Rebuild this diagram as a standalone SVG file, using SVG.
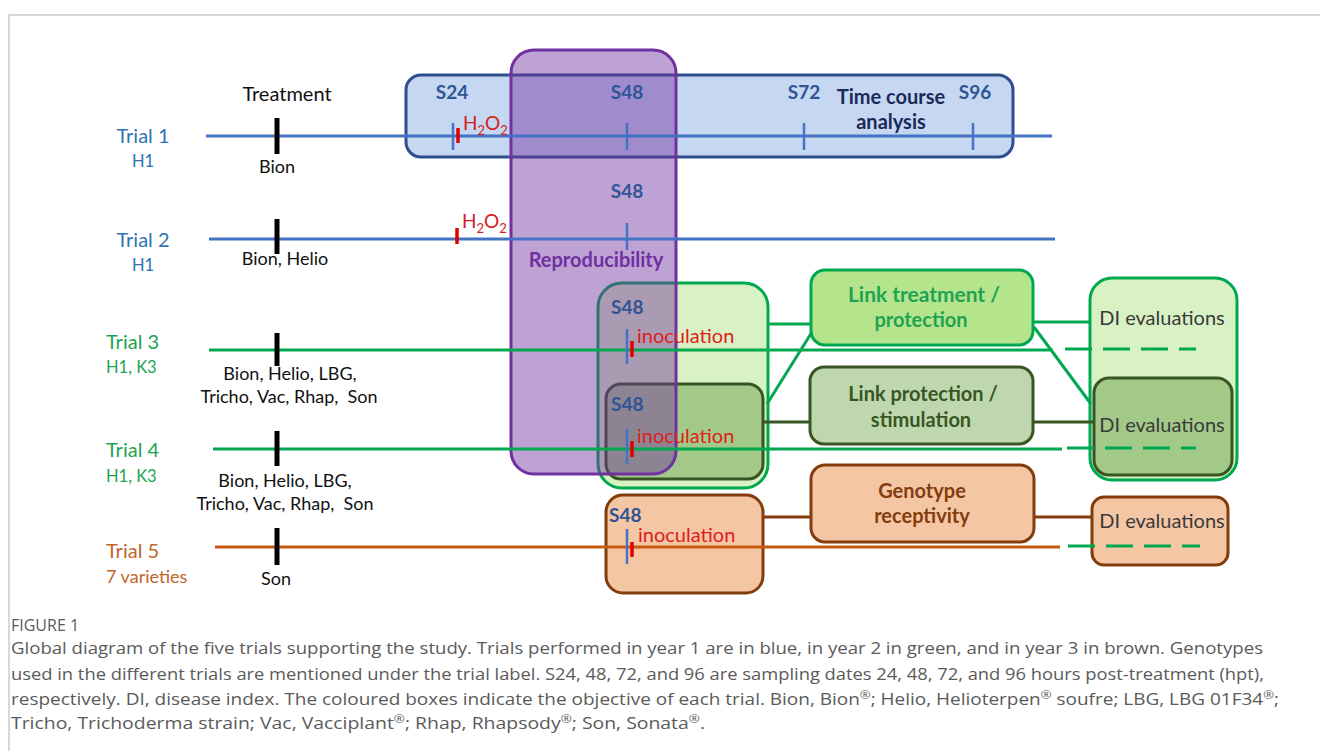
<svg xmlns="http://www.w3.org/2000/svg" width="1320" height="751" viewBox="0 0 1320 751">
  <style>
    text { font-family: Lato, "Liberation Sans", sans-serif; }
    .frame { fill: #ffffff; stroke: #cccccc; stroke-width: 1.5; }
    .axis { stroke-width: 3; fill: none; }
    .ax-blue { stroke: #4472c4; }
    .ax-green { stroke: #00a84f; }
    .ax-brown { stroke: #c55a11; }
    .dash { stroke: #00a84f; stroke-width: 3; stroke-dasharray: 27 11; fill: none; }
    .treat { stroke: #000000; stroke-width: 5; }
    .stick { stroke: #4472c4; stroke-width: 2.5; }
    .rtick { stroke: #e00000; stroke-width: 3.5; }
    .trial-b { fill: #2e74b5; font-size: 20px; }
    .trial-g { fill: #1fa352; font-size: 20px; }
    .trial-o { fill: #c0662a; font-size: 20px; }
    .geno { font-size: 16.5px; }
    .geno-o { font-size: 18px; }
    .prod { fill: #111111; font-size: 18px; text-anchor: middle; white-space: pre; }
    .samp { fill: #2f5597; font-size: 19px; font-weight: bold; }
    .red { fill: #e01c1c; font-size: 20px; }
    .h2o2 { fill: #d42020; font-size: 19px; }
    .box-blue { fill: #c6d7f1; stroke: #2f4f8c; stroke-width: 3; }
    .box-purple { fill: #7030a0; fill-opacity: 0.45; stroke: #7030a0; stroke-width: 3; }
    .box-lg { fill: #d9f2c4; stroke: #00a84f; stroke-width: 3; }
    .box-dg { fill: #a3c989; stroke: #375623; stroke-width: 3; }
    .box-link1 { fill: #b4e58c; stroke: #00a84f; stroke-width: 3; }
    .box-link2 { fill: #bfd7ae; stroke: #375623; stroke-width: 3; }
    .box-or { fill: #f4c6a4; stroke: #843c0c; stroke-width: 3; }
    .title { font-size: 20px; font-weight: bold; text-anchor: middle; }
    .di { fill: #3a3a3a; font-size: 20px; text-anchor: middle; }
    .c-g { stroke: #00a84f; stroke-width: 3; fill: none; }
    .c-dg { stroke: #375623; stroke-width: 3; fill: none; }
    .c-or { stroke: #843c0c; stroke-width: 3; fill: none; }
    .cap { font-family: "Open Sans", "Liberation Sans", sans-serif; fill: #5a5a5a; font-size: 16px; }
    .sup { font-size: 11px; }
  </style>

  <!-- page frame -->
  <rect class="frame" x="9" y="15" width="1330" height="760"/>

  <!-- objective boxes -->
  <g id="box-timecourse">
    <rect class="box-blue" x="406" y="75" width="607" height="82" rx="15"/>
    <text class="title" x="891" y="104" fill="#1a2a5a">Time course</text>
    <text class="title" x="891" y="129" fill="#1a2a5a">analysis</text>
  </g>
  <g id="box-trial3">
    <rect class="box-lg" x="598" y="283" width="170" height="205" rx="24"/>
  </g>
  <g id="box-trial4">
    <rect class="box-dg" x="606" y="384" width="157" height="95" rx="15"/>
  </g>
  <g id="box-trial5">
    <rect class="box-or" x="606" y="495" width="157" height="98" rx="17"/>
  </g>
  <g id="link-treatment">
    <rect class="box-link1" x="811" y="270" width="222" height="75" rx="14"/>
    <text class="title" x="924" y="302" fill="#1fa352" textLength="152" lengthAdjust="spacingAndGlyphs">Link treatment /</text>
    <text class="title" x="921" y="327" fill="#1fa352">protection</text>
  </g>
  <g id="link-stimulation">
    <rect class="box-link2" x="810" y="367" width="223" height="77" rx="14"/>
    <text class="title" x="923" y="401" fill="#375623">Link protection /</text>
    <text class="title" x="921" y="427" fill="#375623">stimulation</text>
  </g>
  <g id="genotype">
    <rect class="box-or" x="811" y="465" width="223" height="77" rx="14"/>
    <text class="title" x="922" y="498" fill="#843c0c">Genotype</text>
    <text class="title" x="922" y="523" fill="#843c0c">receptivity</text>
  </g>
  <g id="di-trial3">
    <rect class="box-lg" x="1090" y="278" width="147" height="202" rx="22"/>
    <text class="di" x="1162" y="325">DI evaluations</text>
  </g>
  <g id="di-trial4">
    <rect class="box-dg" x="1094" y="378" width="138" height="97" rx="15"/>
    <text class="di" x="1162" y="432">DI evaluations</text>
  </g>
  <g id="di-trial5">
    <rect class="box-or" x="1092" y="497" width="136" height="68" rx="12"/>
    <text class="di" x="1162" y="528">DI evaluations</text>
  </g>

  <!-- links between objective boxes -->
  <g id="connectors">
    <line class="c-g" x1="768" y1="324" x2="811" y2="324"/>
    <line class="c-g" x1="767" y1="404" x2="812" y2="332"/>
    <line class="c-g" x1="1033" y1="322" x2="1090" y2="322"/>
    <line class="c-g" x1="1034" y1="327" x2="1091" y2="404"/>
    <line class="c-dg" x1="763" y1="422" x2="810" y2="422"/>
    <line class="c-dg" x1="1033" y1="422" x2="1094" y2="422"/>
    <line class="c-or" x1="763" y1="517" x2="811" y2="517"/>
    <line class="c-or" x1="1034" y1="517" x2="1092" y2="517"/>
  </g>

  <!-- reproducibility overlay -->
  <g id="box-reproducibility">
    <rect class="box-purple" x="511" y="50" width="165" height="424" rx="23"/>
    <text class="title" x="596" y="267" fill="#7030a0">Reproducibility</text>
  </g>

  <!-- trial timelines -->
  <g id="trial1">
    <text class="trial-b" x="143" y="143" text-anchor="middle">Trial 1</text>
    <text class="trial-b geno" x="143" y="167" text-anchor="middle">H1</text>
    <text x="287" y="101" font-size="20" text-anchor="middle" fill="#111111">Treatment</text>
    <line class="axis ax-blue" x1="206" y1="136" x2="1052" y2="136"/>
    <line class="treat" x1="277" y1="118" x2="277" y2="154"/>
    <text class="prod" x="277" y="173">Bion</text>
    <line class="stick" x1="453" y1="123" x2="453" y2="150"/>
    <line class="rtick" x1="458" y1="128" x2="458" y2="143"/>
    <text class="h2o2" x="463" y="130">H<tspan font-size="13" dy="5">2</tspan><tspan dy="-5">O</tspan><tspan font-size="13" dy="5">2</tspan></text>
    <text class="samp" x="452" y="99" text-anchor="middle">S24</text>
    <line class="stick" x1="627" y1="123" x2="627" y2="150"/>
    <text class="samp" x="627" y="99" text-anchor="middle">S48</text>
    <line class="stick" x1="804" y1="123" x2="804" y2="150"/>
    <text class="samp" x="804" y="99" text-anchor="middle">S72</text>
    <line class="stick" x1="973" y1="123" x2="973" y2="150"/>
    <text class="samp" x="975" y="99" text-anchor="middle">S96</text>
  </g>

  <g id="trial2">
    <text class="trial-b" x="143" y="247" text-anchor="middle">Trial 2</text>
    <text class="trial-b geno" x="143" y="271" text-anchor="middle">H1</text>
    <line class="axis ax-blue" x1="209" y1="239" x2="1055" y2="239"/>
    <line class="treat" x1="277" y1="219" x2="277" y2="254"/>
    <text class="prod" x="285" y="265">Bion, Helio</text>
    <line class="rtick" x1="457" y1="228" x2="457" y2="244"/>
    <text class="h2o2" x="462" y="228">H<tspan font-size="13" dy="5">2</tspan><tspan dy="-5">O</tspan><tspan font-size="13" dy="5">2</tspan></text>
    <line class="stick" x1="627" y1="223" x2="627" y2="250"/>
    <text class="samp" x="627" y="198" text-anchor="middle">S48</text>
  </g>

  <g id="trial3">
    <text class="trial-g" x="106" y="349">Trial 3</text>
    <text class="trial-g geno" x="106" y="373">H1, K3</text>
    <line class="axis ax-green" x1="209" y1="350" x2="1053" y2="350"/>
    <line class="dash" x1="1065" y1="349" x2="1196" y2="349"/>
    <line class="treat" x1="277" y1="333" x2="277" y2="366"/>
    <text class="prod" x="290" y="380">Bion, Helio, LBG,</text>
    <text class="prod" x="289" y="403" xml:space="preserve">Tricho, Vac, Rhap,  Son</text>
    <line class="stick" x1="627" y1="329" x2="627" y2="364"/>
    <line class="rtick" x1="632" y1="341" x2="632" y2="357"/>
    <text class="samp" x="611" y="314">S48</text>
    <text class="red" x="637" y="343">inoculation</text>
  </g>

  <g id="trial4">
    <text class="trial-g" x="106" y="457">Trial 4</text>
    <text class="trial-g geno" x="106" y="482">H1, K3</text>
    <line class="axis ax-green" x1="213" y1="449" x2="1062" y2="449"/>
    <line class="dash" x1="1067" y1="448" x2="1196" y2="448"/>
    <line class="treat" x1="277" y1="431" x2="277" y2="466"/>
    <text class="prod" x="285" y="487">Bion, Helio, LBG,</text>
    <text class="prod" x="285" y="510" xml:space="preserve">Tricho, Vac, Rhap,  Son</text>
    <line class="stick" x1="627" y1="429" x2="627" y2="464"/>
    <line class="rtick" x1="632" y1="441" x2="632" y2="457"/>
    <text class="samp" x="611" y="411">S48</text>
    <text class="red" x="637" y="443">inoculation</text>
  </g>

  <g id="trial5">
    <text class="trial-o" x="106" y="558">Trial 5</text>
    <text class="trial-o geno-o" x="106" y="583">7 varieties</text>
    <line class="axis ax-brown" x1="215" y1="547" x2="1060" y2="547"/>
    <line class="dash" x1="1068" y1="546" x2="1200" y2="546"/>
    <line class="treat" x1="277" y1="528" x2="277" y2="565"/>
    <text class="prod" x="276" y="585">Son</text>
    <line class="stick" x1="627" y1="529" x2="627" y2="564"/>
    <line class="rtick" x1="632" y1="542" x2="632" y2="557"/>
    <text class="samp" x="609" y="522">S48</text>
    <text class="red" x="638" y="542">inoculation</text>
  </g>

  <!-- caption -->
  <g id="caption">
    <text class="cap" x="11" y="631" font-size="13.5" fill="#6a6a6a">FIGURE 1</text>
    <text class="cap" x="11" y="654" textLength="1252" lengthAdjust="spacingAndGlyphs">Global diagram of the five trials supporting the study. Trials performed in year 1 are in blue, in year 2 in green, and in year 3 in brown. Genotypes</text>
    <text class="cap" x="11" y="680" textLength="1253" lengthAdjust="spacingAndGlyphs">used in the different trials are mentioned under the trial label. S24, 48, 72, and 96 are sampling dates 24, 48, 72, and 96 hours post-treatment (hpt),</text>
    <text class="cap" x="11" y="705" textLength="1268" lengthAdjust="spacingAndGlyphs">respectively. DI, disease index. The coloured boxes indicate the objective of each trial. Bion, Bion<tspan class="sup" dy="-6">®</tspan><tspan dy="6">; Helio, Helioterpen</tspan><tspan class="sup" dy="-6">®</tspan><tspan dy="6"> soufre; LBG, LBG 01F34</tspan><tspan class="sup" dy="-6">®</tspan><tspan dy="6">;</tspan></text>
    <text class="cap" x="11" y="729" textLength="694" lengthAdjust="spacingAndGlyphs">Tricho, Trichoderma strain; Vac, Vacciplant<tspan class="sup" dy="-6">®</tspan><tspan dy="6">; Rhap, Rhapsody</tspan><tspan class="sup" dy="-6">®</tspan><tspan dy="6">; Son, Sonata</tspan><tspan class="sup" dy="-6">®</tspan><tspan dy="6">.</tspan></text>
  </g>
</svg>
